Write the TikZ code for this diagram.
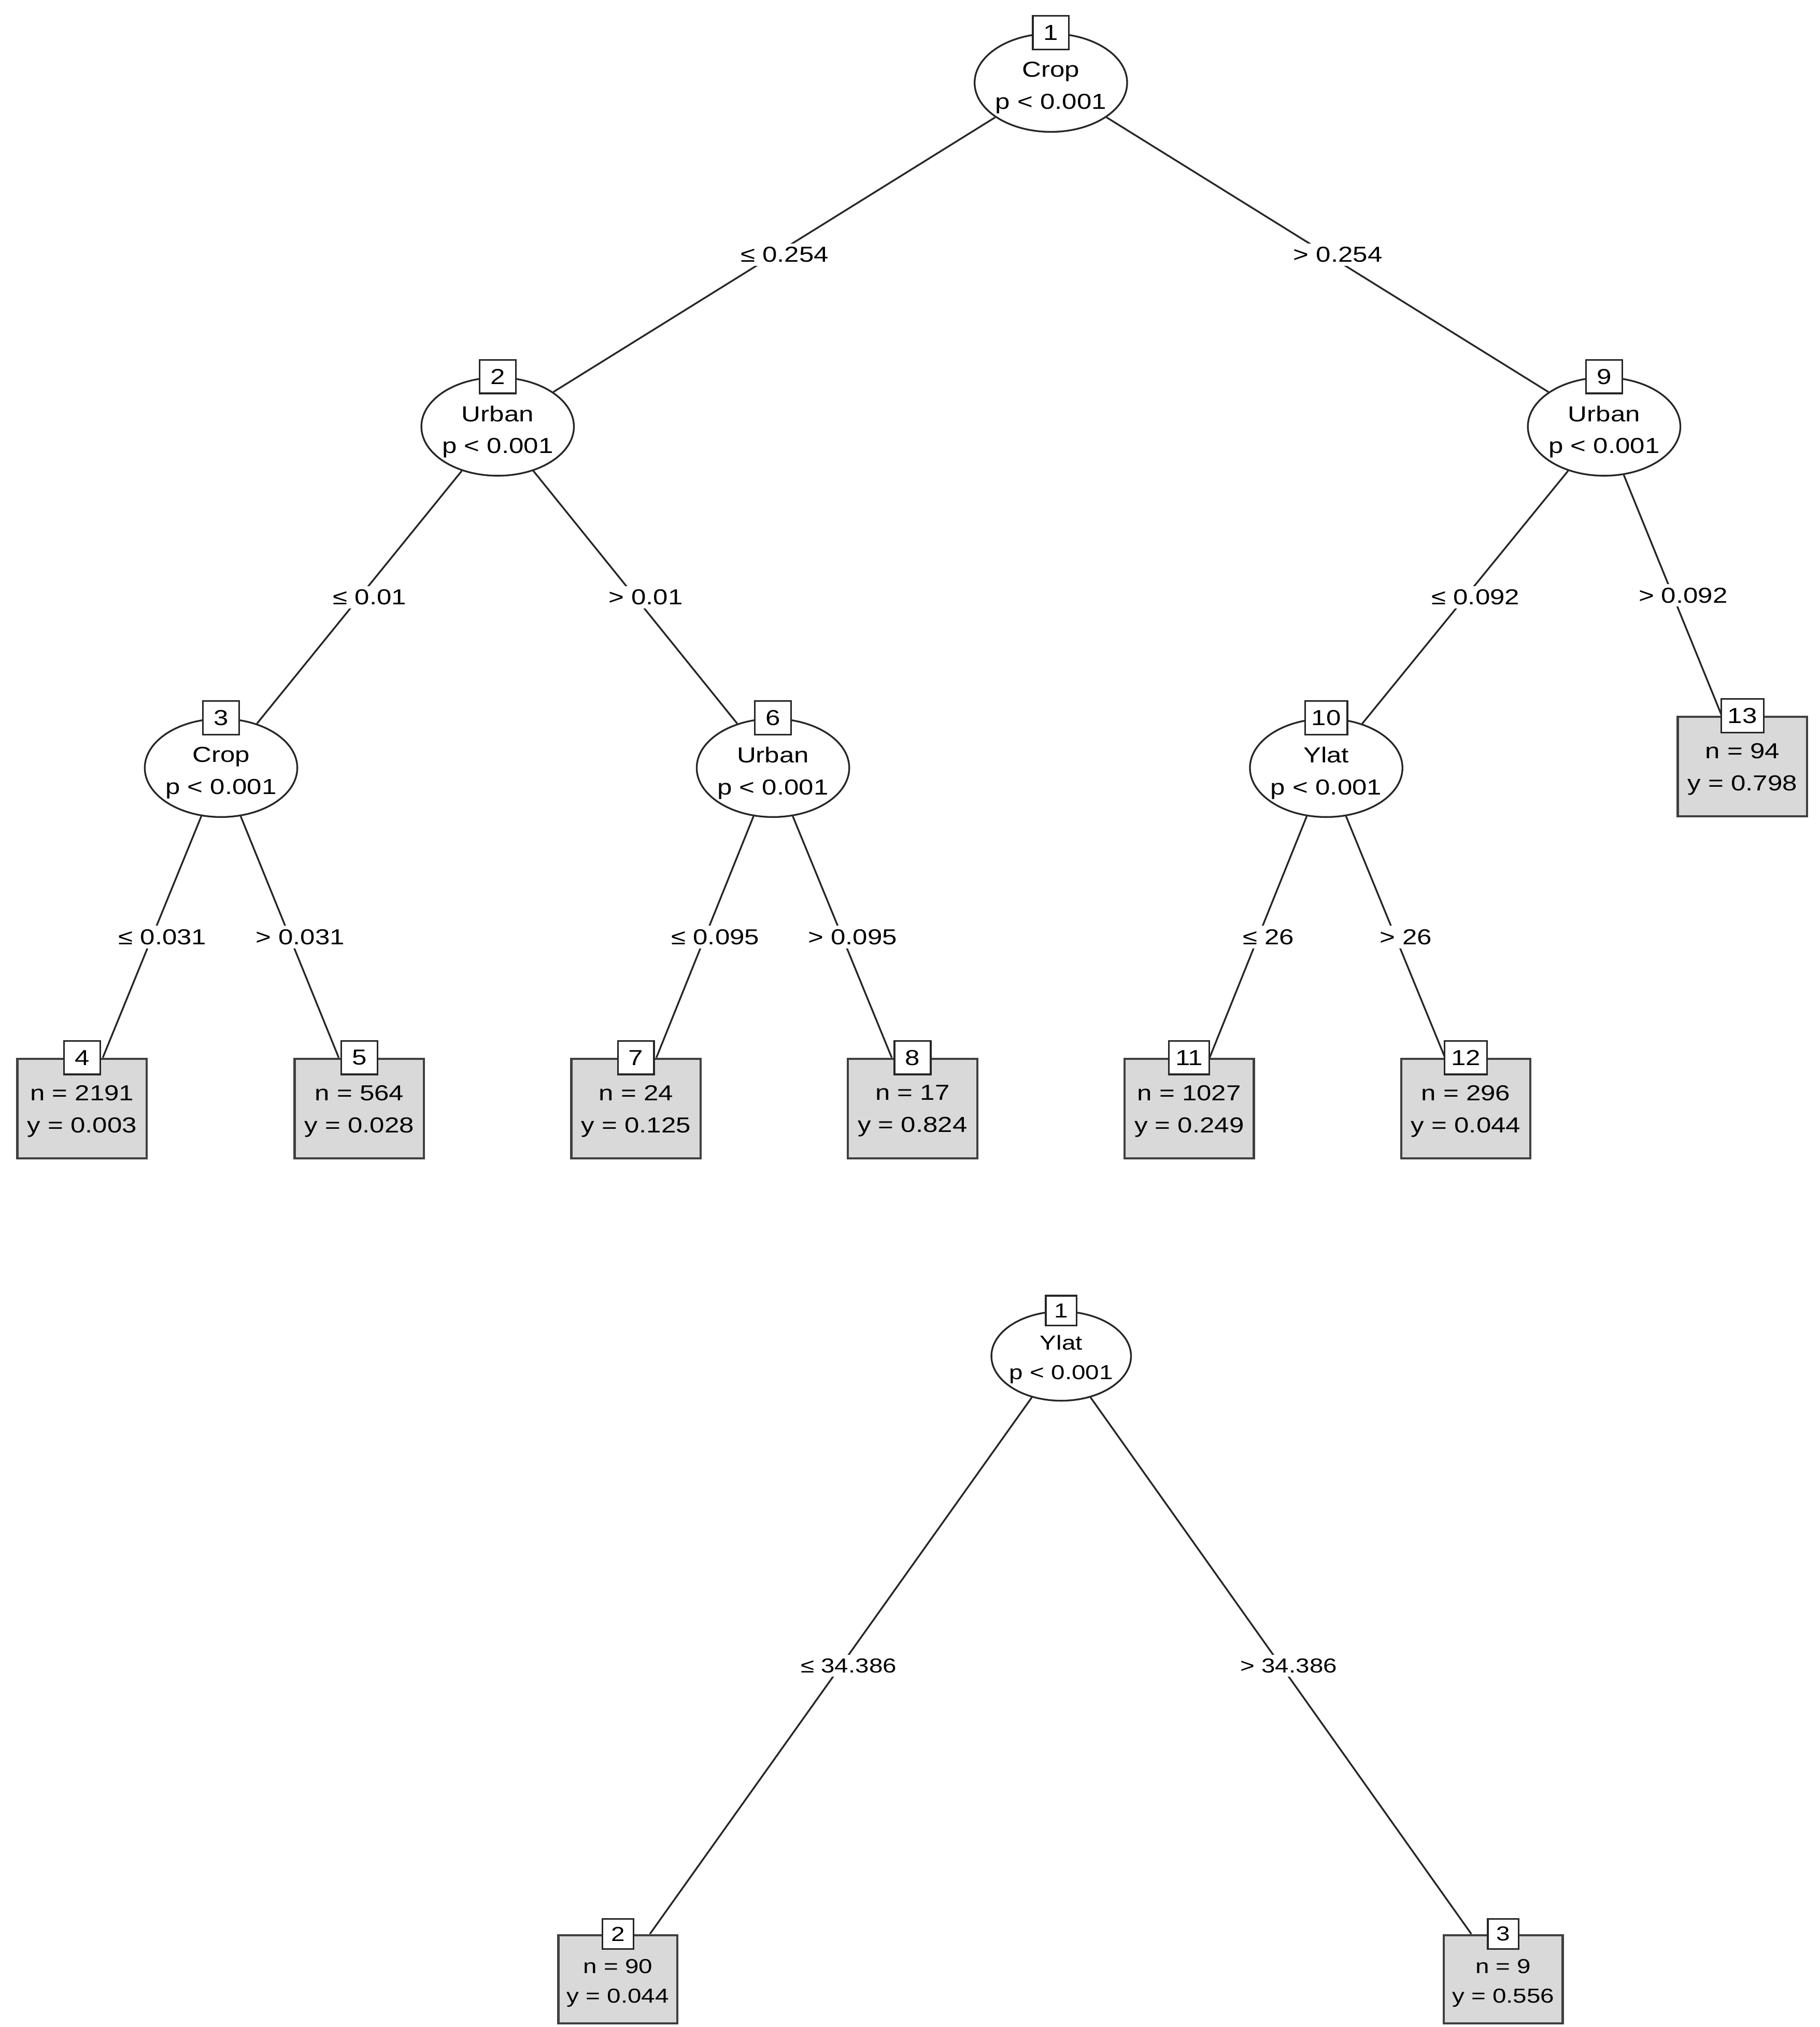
\documentclass[tikz,border=0pt]{standalone}
\usepackage{fontspec}
\setmainfont{Liberation Sans}[FakeStretch=1.22]
\usetikzlibrary{shapes.geometric}
\newcommand\mytopfont{\fontsize{11.9}{17.6}\selectfont}
\newcommand\mybotfont{\fontsize{11.1}{16.2}\selectfont}
\tikzset{
  inner/.style={ellipse, draw=black!85, line width=0.95pt, fill=white,
    minimum width=2.942cm, minimum height=1.895cm, inner sep=0pt},
  binner/.style={ellipse, draw=black!85, line width=0.95pt, fill=white,
    minimum width=2.693cm, minimum height=1.721cm, inner sep=0pt},
  term/.style={rectangle, draw=black!75, line width=1.25pt, fill=black!15,
    minimum width=2.494cm, minimum height=1.920cm, inner sep=0pt},
  bterm/.style={rectangle, draw=black!75, line width=1.25pt, fill=black!15,
    minimum width=2.294cm, minimum height=1.700cm, inner sep=0pt},
  ttxt/.style={inner sep=0pt, align=center, font=\mytopfont},
  btxt/.style={inner sep=0pt, align=center, font=\mybotfont},
  idbox/.style={rectangle, draw=black!85, line width=0.95pt, fill=white,
    minimum width=0.698cm, minimum height=0.648cm, inner xsep=0.125cm, inner ysep=0pt, font=\mytopfont},
  bidbox/.style={rectangle, draw=black!85, line width=0.95pt, fill=white,
    minimum width=0.598cm, minimum height=0.574cm, inner xsep=0.11cm, inner ysep=0pt, font=\mybotfont},
  edge/.style={draw=black!85, line width=0.95pt},
  lbl/.style={fill=white, inner sep=2pt, font=\mytopfont, xshift=0.2cm},
  blbl/.style={fill=white, inner sep=2pt, font=\mybotfont, xshift=0.15cm},
}
\begin{document}
\begin{tikzpicture}[x=0.024936cm, y=-0.024936cm]
\useasboundingbox (0,0) rectangle (1408,1568);
% ---------- top tree ----------
\node[inner] (n1) at (813,64) {};
\node[inner] (n2) at (385,330) {};
\node[inner] (n9) at (1241,330) {};
\node[inner] (n3) at (171,594) {};
\node[inner] (n6) at (598,594) {};
\node[inner] (n10) at (1026,594) {};
\node[term] (n13) at (1348,593) {};
\node[term] (n4) at (63.5,857.5) {};
\node[term] (n5) at (278,857.5) {};
\node[term] (n7) at (492,857.5) {};
\node[term] (n8) at (706,857.5) {};
\node[term] (n11) at (920,857.5) {};
\node[term] (n12) at (1134,857.5) {};

\node[ttxt] (t1) at ([yshift=-0.1cm]n1.center) {Crop\\p < 0.001};
\node[ttxt] (t2) at ([yshift=-0.1cm]n2.center) {Urban\\p < 0.001};
\node[ttxt] (t9) at ([yshift=-0.1cm]n9.center) {Urban\\p < 0.001};
\node[ttxt] (t3) at ([yshift=-0.1cm]n3.center) {Crop\\p < 0.001};
\node[ttxt] (t6) at ([yshift=-0.1cm]n6.center) {Urban\\p < 0.001};
\node[ttxt] (t10) at ([yshift=-0.1cm]n10.center) {Ylat\\p < 0.001};
\node[ttxt] (t13) at ([yshift=-0.05cm]n13.center) {n = 94\\y = 0.798};
\node[ttxt] (t4) at ([yshift=-0.05cm]n4.center) {n = 2191\\y = 0.003};
\node[ttxt] (t5) at ([yshift=-0.05cm]n5.center) {n = 564\\y = 0.028};
\node[ttxt] (t7) at ([yshift=-0.05cm]n7.center) {n = 24\\y = 0.125};
\node[ttxt] (t8) at ([yshift=-0.05cm]n8.center) {n = 17\\y = 0.824};
\node[ttxt] (t11) at ([yshift=-0.05cm]n11.center) {n = 1027\\y = 0.249};
\node[ttxt] (t12) at ([yshift=-0.05cm]n12.center) {n = 296\\y = 0.044};

\draw[edge] (n1) -- node[lbl] {≤ 0.254} (n2);
\draw[edge] (n1) -- node[lbl] {> 0.254} (n9);
\draw[edge] (n2) -- node[lbl] {≤ 0.01} (n3);
\draw[edge] (n2) -- node[lbl] {> 0.01} (n6);
\draw[edge] (n9) -- node[lbl] {≤ 0.092} (n10);
\draw[edge] (n9) -- node[lbl] {> 0.092} (n13);
\draw[edge] (n3) -- node[lbl] {≤ 0.031} (n4);
\draw[edge] (n3) -- node[lbl] {> 0.031} (n5);
\draw[edge] (n6) -- node[lbl] {≤ 0.095} (n7);
\draw[edge] (n6) -- node[lbl] {> 0.095} (n8);
\draw[edge] (n10) -- node[lbl] {≤ 26} (n11);
\draw[edge] (n10) -- node[lbl] {> 26} (n12);

\node[idbox] (i1) at (n1.north) {1};
\node[idbox] (i2) at (n2.north) {2};
\node[idbox] (i9) at (n9.north) {9};
\node[idbox] (i3) at (n3.north) {3};
\node[idbox] (i6) at (n6.north) {6};
\node[idbox] (i10) at (n10.north) {10};
\node[idbox] (i13) at (n13.north) {13};
\node[idbox] (i4) at (n4.north) {4};
\node[idbox] (i5) at (n5.north) {5};
\node[idbox] (i7) at (n7.north) {7};
\node[idbox] (i8) at (n8.north) {8};
\node[idbox] (i11) at (n11.north) {11};
\node[idbox] (i12) at (n12.north) {12};

% ---------- bottom tree ----------
\node[binner] (b1) at (821,1049) {};
\node[bterm] (b2) at (478,1531) {};
\node[bterm] (b3) at (1163,1531) {};
\node[btxt] (u1) at ([yshift=-0.065cm]b1.center) {Ylat\\p < 0.001};
\node[btxt] (u2) at ([yshift=-0.075cm]b2.center) {n = 90\\y = 0.044};
\node[btxt] (u3) at ([yshift=-0.075cm]b3.center) {n = 9\\y = 0.556};
\draw[edge] (b1) -- node[blbl] {≤ 34.386} (b2);
\draw[edge] (b1) -- node[blbl] {> 34.386} (b3);
\node[bidbox] (j1) at (b1.north) {1};
\node[bidbox] (j2) at (b2.north) {2};
\node[bidbox] (j3) at (b3.north) {3};
\end{tikzpicture}
\end{document}
